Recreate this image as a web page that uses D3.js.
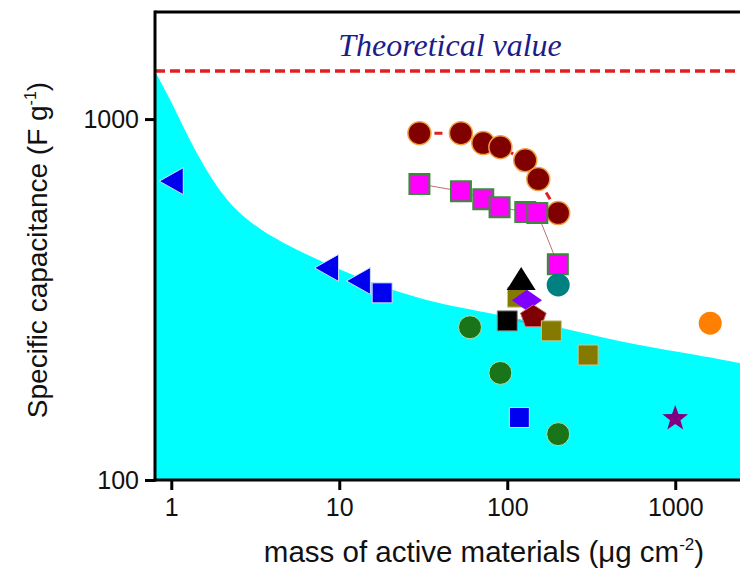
<!DOCTYPE html>
<html>
<head>
<meta charset="utf-8">
<script src="https://cdn.jsdelivr.net/npm/d3@7"></script>
<style>
  body { margin: 0; background: #fff; }
  svg { display: block; }
  text { font-family: "Liberation Sans", Arial, sans-serif; fill: #111; }
</style>
</head>
<body>
<svg id="chart" width="740" height="569"></svg>
<script>
// values: mass in ug/cm2, capacitance in F/g
var xTicks = [1, 10, 100, 1000];
var xMinor = [0.8, 0.9, 2, 3, 4, 5, 6, 7, 8, 9, 20, 30, 40, 50, 60, 70, 80, 90,
              200, 300, 400, 500, 600, 700, 800, 900, 2000];
var yTicks = [100, 1000];
var yMinor = [200, 300, 400, 500, 600, 700, 800, 900];
var theoretical = 1360;

// upper edge of the cyan region
var edgeMass = [0.8, 0.99, 1.18, 1.49, 1.88, 2.47, 3.39, 5.11, 10.1, 20.1, 39.9, 79, 207, 471, 1071, 2438, 3000];
var edgeCap  = [1358, 1129, 950, 769, 644, 553, 493, 442, 382, 336, 307, 290, 265, 241, 226, 211, 207];

// series joined by a dashed red line
var circleMass = [30, 53, 72, 91, 128, 153, 201];
var circleCap  = [914, 914, 858, 836, 769, 682, 549];

// series joined by a thin line
var squareMass = [30, 53, 72, 90, 128, 151, 200];
var squareCap  = [661, 631, 600, 570, 553, 549, 396];

// single reported points
var pointMass = [1.0, 8.4, 13, 18, 115, 121, 131, 100, 143, 183, 201, 60, 303, 91, 118, 201, 1000, 1615];
var pointCap  = [673, 387, 356, 330, 321, 358, 315, 276, 285, 259, 347, 265, 222, 198, 149, 134, 149, 272];
var pointKind = ['triBlue', 'triBlue', 'triBlue', 'sqBlue', 'sqOlive', 'triBlack', 'diamond', 'sqBlack',
                 'pentagon', 'sqOlive', 'cirTeal', 'cirGreen', 'sqOlive', 'cirGreen', 'sqBlue', 'cirGreen',
                 'star', 'cirOrange'];

// thin connector between two of the points
var linkMass = [100, 183];
var linkCap  = [281, 262];

var styles = {
  triBlue:   { shape: 'triLeft',  fill: '#0000f0', stroke: '#d0e0ff' },
  sqBlue:    { shape: 'square',   fill: '#0000f0', stroke: '#d0e0ff' },
  sqOlive:   { shape: 'square',   fill: '#857a00', stroke: '#c8c890' },
  sqBlack:   { shape: 'square',   fill: '#000000', stroke: '#888888' },
  triBlack:  { shape: 'triUp',    fill: '#000000', stroke: 'none' },
  diamond:   { shape: 'diamond',  fill: '#8000ff', stroke: 'none' },
  pentagon:  { shape: 'pentagon', fill: '#800000', stroke: '#c07070' },
  cirTeal:   { shape: 'circle',   fill: '#008080', stroke: 'none' },
  cirGreen:  { shape: 'circle',   fill: '#1a751a', stroke: '#b0e0b0' },
  star:      { shape: 'star',     fill: '#800080', stroke: 'none' },
  cirOrange: { shape: 'circle',   fill: '#ff8000', stroke: 'none' }
};

var svg = d3.select("#chart");

var x = d3.scaleLog().domain([0.8, 3000]).range([155, 755.4]);
var y = d3.scaleLog().domain([100, 1980]).range([480, 12]);

svg.append("defs").append("clipPath").attr("id", "plot")
  .append("rect").attr("x", 155).attr("y", 12).attr("width", 600).attr("height", 468);

var plot = svg.append("g").attr("clip-path", "url(#plot)");

// shaded region under the edge
var edge = edgeMass.map(function(m, i) { return [m, edgeCap[i]]; });
plot.append("path")
  .datum(edge)
  .attr("fill", "#00ffff")
  .attr("d", d3.area()
    .x(function(d) { return x(d[0]); })
    .y0(y(100))
    .y1(function(d) { return y(d[1]); })
    .curve(d3.curveBasis));

// theoretical value line
plot.append("line")
  .attr("x1", x(0.8)).attr("x2", x(3000))
  .attr("y1", y(theoretical)).attr("y2", y(theoretical))
  .attr("stroke", "#e02020").attr("stroke-width", 3.5)
  .attr("stroke-dasharray", "10,5");

svg.append("text")
  .attr("x", 450).attr("y", 56)
  .attr("text-anchor", "middle")
  .style("font-family", '"Liberation Serif", "Times New Roman", serif')
  .style("font-style", "italic")
  .style("font-size", "32px")
  .style("fill", "#1c1c8a")
  .text("Theoretical value");

var line = d3.line()
  .x(function(d) { return x(d[0]); })
  .y(function(d) { return y(d[1]); });

function pairs(ms, cs) { return ms.map(function(m, i) { return [m, cs[i]]; }); }

plot.append("path").datum(pairs(linkMass, linkCap))
  .attr("fill", "none").attr("stroke", "#a08888").attr("stroke-width", 1)
  .attr("d", line);

plot.append("path").datum(pairs(circleMass, circleCap))
  .attr("fill", "none").attr("stroke", "#e02020").attr("stroke-width", 3)
  .attr("stroke-dasharray", "8,7")
  .attr("d", line);

plot.append("path").datum(pairs(squareMass, squareCap))
  .attr("fill", "none").attr("stroke", "#c07070").attr("stroke-width", 1)
  .attr("d", line);

function poly(pts) { return "M" + pts.map(function(p) { return p.join(","); }).join("L") + "Z"; }

function shapePath(shape) {
  if (shape == 'circle') return d3.symbol().type(d3.symbolCircle).size(Math.PI * 11.5 * 11.5)();
  if (shape == 'square') return poly([[-10, -10], [10, -10], [10, 10], [-10, 10]]);
  if (shape == 'triLeft') return poly([[-12, 0], [12, -13.5], [12, 13.5]]);
  if (shape == 'triUp') return poly([[0, -13], [14.5, 10], [-14.5, 10]]);
  if (shape == 'diamond') return poly([[0, -10.5], [15, 0], [0, 10.5], [-15, 0]]);
  if (shape == 'pentagon') {
    var p = [];
    for (var i = 0; i < 5; i++) {
      var a = -Math.PI / 2 + i * 2 * Math.PI / 5;
      p.push([13.5 * Math.cos(a), 12 * Math.sin(a) + 1]);
    }
    return poly(p);
  }
  if (shape == 'star') {
    var s = [];
    for (var j = 0; j < 10; j++) {
      var b = -Math.PI / 2 + j * Math.PI / 5;
      var r = j % 2 ? 5.5 : 13.5;
      s.push([r * Math.cos(b), r * Math.sin(b) + 1]);
    }
    return poly(s);
  }
}

plot.selectAll(".circ").data(pairs(circleMass, circleCap)).enter()
  .append("circle").attr("class", "circ")
  .attr("cx", function(d) { return x(d[0]); })
  .attr("cy", function(d) { return y(d[1]); })
  .attr("r", 11.5)
  .attr("fill", "#800000").attr("stroke", "#f0a040").attr("stroke-width", 1.5);

plot.selectAll(".sq").data(pairs(squareMass, squareCap)).enter()
  .append("path").attr("class", "sq")
  .attr("transform", function(d) { return "translate(" + x(d[0]) + "," + y(d[1]) + ")"; })
  .attr("d", shapePath('square'))
  .attr("fill", "#ff00ff").attr("stroke", "#3a8a3a").attr("stroke-width", 2);

plot.selectAll(".pt").data(pointMass.map(function(m, i) {
    return { m: m, c: pointCap[i], k: pointKind[i] };
  })).enter()
  .append("path").attr("class", "pt")
  .attr("transform", function(d) { return "translate(" + x(d.m) + "," + y(d.c) + ")"; })
  .attr("d", function(d) { return shapePath(styles[d.k].shape); })
  .attr("fill", function(d) { return styles[d.k].fill; })
  .attr("stroke", function(d) { return styles[d.k].stroke; })
  .attr("stroke-width", 1);

// axes
var bottom = svg.append("g").attr("transform", "translate(0,480)");
bottom.call(d3.axisBottom(x).tickValues(xMinor).tickSize(6).tickFormat(""));
bottom.call(d3.axisBottom(x).tickValues(xTicks).tickSize(10).tickPadding(8).tickFormat(d3.format("d")));
bottom.selectAll(".domain").remove();

var left = svg.append("g").attr("transform", "translate(155,0)");
left.call(d3.axisLeft(y).tickValues(yMinor).tickSize(6).tickFormat(""));
left.call(d3.axisLeft(y).tickValues(yTicks).tickSize(10).tickPadding(6).tickFormat(d3.format("d")));
left.selectAll(".domain").remove();

svg.selectAll(".tick line").attr("stroke", "#000").attr("stroke-width", 3);
svg.selectAll(".tick text").style("font-size", "25px").style("font-family", '"Liberation Sans", Arial, sans-serif').attr("fill", "#111");

// frame
svg.append("line").attr("x1", 155).attr("x2", 740).attr("y1", 12).attr("y2", 12)
  .attr("stroke", "#000").attr("stroke-width", 3);
svg.append("line").attr("x1", 155).attr("x2", 155).attr("y1", 10.5).attr("y2", 481.5)
  .attr("stroke", "#000").attr("stroke-width", 3);
svg.append("line").attr("x1", 153.5).attr("x2", 740).attr("y1", 480).attr("y2", 480)
  .attr("stroke", "#000").attr("stroke-width", 3);

// titles
var xt = svg.append("text").attr("x", 484).attr("y", 562).attr("text-anchor", "middle")
  .style("font-size", "29.5px");
xt.append("tspan").text("mass of active materials (\u03bcg cm");
xt.append("tspan").attr("dy", -12).style("font-size", "17px").text("-2");
xt.append("tspan").attr("dy", 12).text(")");

var yt = svg.append("text").attr("transform", "translate(47,250) rotate(-90)")
  .attr("text-anchor", "middle").style("font-size", "28px");
yt.append("tspan").text("Specific capacitance (F g");
yt.append("tspan").attr("dy", -11).style("font-size", "16px").text("-1");
yt.append("tspan").attr("dy", 11).text(")");
</script>
</body>
</html>
